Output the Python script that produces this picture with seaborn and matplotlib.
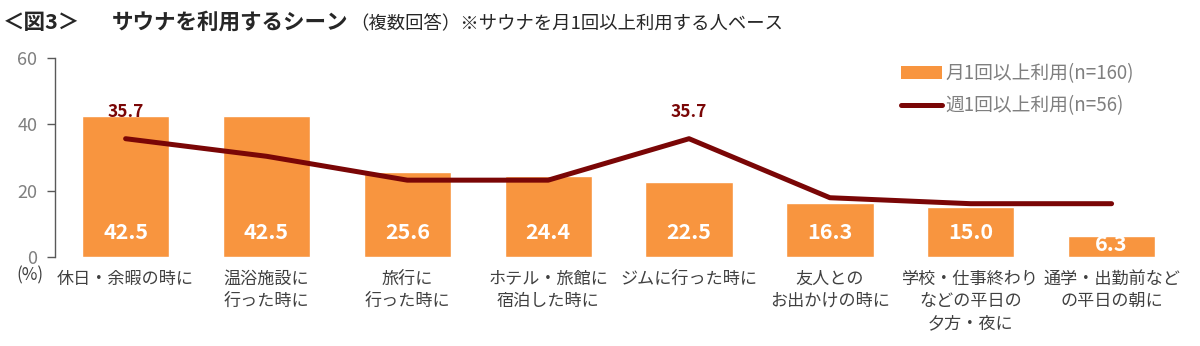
import numpy as np
import pandas as pd
import matplotlib
matplotlib.use("Agg")
import matplotlib.pyplot as plt
from matplotlib.patches import Patch
from matplotlib.lines import Line2D
import seaborn as sns

# Scenes where sauna is used (multiple answers, %)
scenes = [
    "休日・余暇の時に",
    "温浴施設に\n行った時に",
    "旅行に\n行った時に",
    "ホテル・旅館に\n宿泊した時に",
    "ジムに行った時に",
    "友人との\nお出かけの時に",
    "学校・仕事終わり\nなどの平日の\n夕方・夜に",
    "通学・出勤前など\nの平日の朝に",
]
monthly_users = [42.5, 42.5, 25.6, 24.4, 22.5, 16.3, 15.0, 6.3]   # 月1回以上利用 (n=160)
weekly_users = [35.7, 30.4, 23.2, 23.2, 35.7, 17.9, 16.1, 16.1]   # 週1回以上利用 (n=56)
weekly_labelled = [0, 4]
yticks = [0, 20, 40, 60]

BAR = "#F8953F"
LINE = "#7A0606"
GRAY = "#7F7F7F"
TEXT = "#404040"

sns.set_theme(style="white")
plt.rcParams["font.family"] = ["Noto Sans CJK JP", "DejaVu Sans"]

fig = plt.figure(figsize=(12, 3.46), dpi=100)
ax = fig.add_axes([0.046, 0.257, 0.939, 0.575])

df = pd.DataFrame({"scene": scenes, "monthly": monthly_users, "weekly": weekly_users})
sns.barplot(data=df, x="scene", y="monthly", color=BAR, saturation=1,
            width=0.62, ax=ax, zorder=1)
sns.lineplot(x=np.arange(len(scenes)), y=df["weekly"], color=LINE,
             linewidth=3.6, ax=ax, zorder=3, solid_capstyle="round")

# bar values inside the base of each bar
for i, v in enumerate(monthly_users):
    ax.text(i, min(7.5, v / 2 + 0.5), f"{v:.1f}", ha="center", va="center",
            color="white", fontsize=15.5, fontweight="bold", zorder=4)

# selected line values
for i in weekly_labelled:
    ax.text(i, weekly_users[i] + 8.0, f"{weekly_users[i]:.1f}", ha="center",
            va="center", color=LINE, fontsize=12.5, fontweight="bold", zorder=4)

ax.set_xlim(-0.5, len(scenes) - 0.5)
ax.set_ylim(0, 60)
ax.set_yticks(yticks)
ax.set_xlabel("")
ax.set_ylabel("")
for s in ["top", "right", "bottom"]:
    ax.spines[s].set_visible(False)
ax.spines["left"].set_color("#595959")
ax.spines["left"].set_linewidth(1.0)
ax.tick_params(axis="y", left=True, length=6, width=1.0, color="#595959",
               labelcolor=GRAY, labelsize=13, pad=7, direction="out")
ax.tick_params(axis="x", bottom=False, labelcolor=TEXT, labelsize=12.3, pad=3)
for lab in ax.get_xticklabels():
    lab.set_linespacing(1.3)
    lab.set_verticalalignment("top")

fig.text(0.014, 0.205, "(%)", ha="left", va="center", color=TEXT, fontsize=12.3)

handles = [
    Patch(facecolor=BAR, edgecolor="none", label="月1回以上利用(n=160)"),
    Line2D([0], [0], color=LINE, linewidth=3.6, label="週1回以上利用(n=56)"),
]
leg = ax.legend(handles=handles, loc="upper right", bbox_to_anchor=(0.972, 1.06),
                frameon=False, fontsize=13.5, handlelength=2.2, handleheight=0.7,
                handletextpad=0.15, labelspacing=0.6, labelcolor=GRAY)

# title line
fig.text(0.002, 0.935, "＜図3＞", fontsize=15.5, fontweight="bold",
         color="#262626", va="center", ha="left")
fig.text(0.093, 0.935, "サウナを利用するシーン", fontsize=15.5, fontweight="bold",
         color="#262626", va="center", ha="left")
fig.text(0.292, 0.93, "（複数回答）※サウナを月1回以上利用する人ベース", fontsize=13.2,
         color="#262626", va="center", ha="left")

fig.savefig("out.png", dpi=100, facecolor="white")
